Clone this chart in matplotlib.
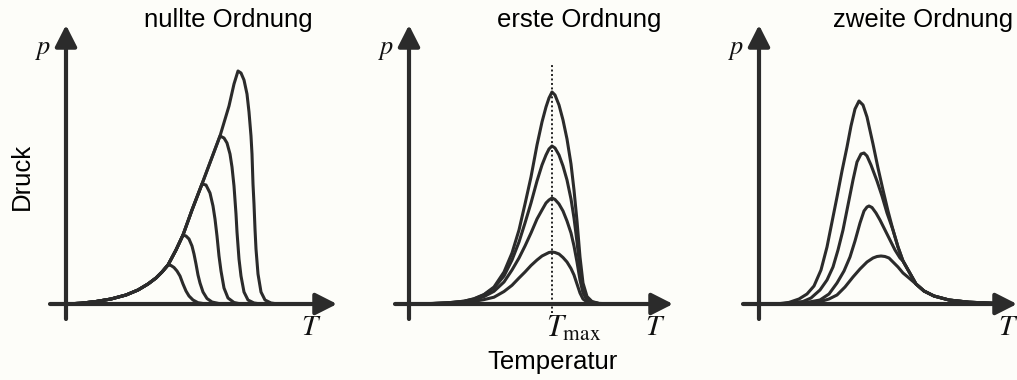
import matplotlib
matplotlib.use('Agg')
import matplotlib.pyplot as plt

plt.rcParams['mathtext.fontset'] = 'stix'
plt.rcParams['font.family'] = ['Liberation Sans', 'DejaVu Sans']

# ---- Daten ----
titles = ['nullte Ordnung', 'erste Ordnung', 'zweite Ordnung']

# nullte Ordnung: gemeinsame Anstiegsflanke + Abfall je Kurve
env_x = [0, 15, 30, 45, 60, 72, 82, 90, 96, 102, 110, 117, 126, 136, 145, 154, 163, 168, 172]
env_y = [0, 0.8, 2.5, 5, 9, 14, 20, 26, 32, 39, 54, 69, 94, 120, 144, 168, 198, 220, 233]
z_fall_x = [
    [102, 105, 108, 111, 114, 117, 120, 123, 127, 132, 140],
    [117, 120, 123, 126, 128, 130, 132, 134, 137, 141, 146, 155],
    [136, 140, 144, 147, 149, 151, 153, 155, 158, 162, 168, 175],
    [154, 158, 161, 164, 166, 168, 170, 171, 173, 175, 178, 182, 188, 195],
    [172, 175, 178, 181, 183, 185, 186, 187, 188, 189, 190, 192, 195, 199, 205, 212],
]
z_fall_y = [
    [39, 38.5, 36.5, 33, 28, 20, 13, 8, 4, 1.3, 0],
    [69, 68, 65, 58, 50, 40, 29, 21, 12, 5.5, 2, 0],
    [120, 119, 111, 98, 85, 68, 48, 33, 16, 6, 1.5, 0],
    [168, 166, 161, 150, 137, 118, 90, 72, 45, 28, 12, 4, 1, 0],
    [233, 231, 224, 210, 192, 168, 150, 120, 100, 75, 55, 30, 12, 4, 1, 0],
]

# erste Ordnung
f_x = [0, 20, 40, 55, 65, 75, 85, 95, 103, 110, 116, 122, 128, 133, 137, 140, 143,
       146, 150, 154, 158, 162, 165, 168, 171, 174, 178, 183, 190, 200, 215]
f_y1 = [0, 0.4, 1.3, 2.8, 5.3, 9.5, 17, 32, 51, 74, 100, 127, 159, 182, 197, 206, 212,
        209, 199, 184, 165, 140, 114, 83, 47, 21, 7.5, 2.5, 0.6, 0.2, 0]
f_y2 = [0, 0.3, 1.3, 2.8, 5, 9.2, 16, 28, 44, 62, 81, 101, 123, 139, 149, 155, 158,
        156, 149, 138, 124, 105, 86, 62, 35, 16, 5.5, 2, 0.5, 0.1, 0]
f_y3 = [0, 0.3, 1.1, 2.3, 4.2, 7.4, 12.7, 22, 34, 46, 58, 71, 85, 94, 101, 104, 106,
        104.5, 100, 93, 83, 71, 58, 42, 24, 11, 4, 1.4, 0.4, 0.1, 0]
f_y4 = [0, 0.2, 0.6, 1.5, 2.6, 4.4, 6.8, 12.5, 18.7, 26, 32, 38.5, 44, 48, 50, 51.5, 52,
        51.5, 50, 46.5, 42, 35.5, 29, 20, 11, 5, 2, 0.7, 0.2, 0.05, 0]
t_max = 143

# zweite Ordnung
s_x = [
    [10, 20, 30, 40, 48, 55, 62, 68, 73, 78, 83, 88, 92, 96, 100, 104, 108, 114, 119, 124, 129, 134, 139, 144],
    [15, 25, 35, 44, 52, 61, 68, 74, 79, 84, 89, 94, 98, 102, 105, 108, 112, 118, 123, 128, 134, 139, 144],
    [25, 35, 45, 53, 61, 70, 78, 85, 91, 96, 101, 105, 108, 110, 113, 117, 121, 126, 131, 136, 141, 144],
    [35, 45, 55, 61, 70, 78, 86, 94, 101, 108, 114, 118, 122, 126, 130, 134, 139, 144, 150],
]
s_y = [
    [0, 0.3, 1.6, 5, 10, 18, 34, 57, 82, 107, 133, 157, 178, 195, 203, 199, 187, 160, 136, 114, 93, 74, 57, 43],
    [0, 0.5, 1.5, 2.5, 6, 14, 24, 37, 54, 74, 99, 124, 142, 150, 151, 148, 139, 123, 108, 91, 74, 57, 43],
    [0, 0.5, 1.2, 2.5, 4, 10, 21, 33, 47, 63, 81, 93, 97, 98, 96.5, 91, 84, 74, 64, 54, 46, 43],
    [0, 0.5, 1.3, 2.3, 5, 9, 17, 27, 35, 42, 46, 47.5, 48, 47.5, 46, 42, 37, 31, 26],
]
tail_x = [157, 165, 175, 190, 210, 240]
tail_y = [20, 13, 8, 4, 1.8, 0.5]

# ---- Layout ----
W, H = 1017, 380
bg = '#fdfdf9'
ink = '#2b2b2b'
origins = [66, 409, 759]
x_ends = [(-16, 271), (-14, 264), (-16, 258)]
fs = 18.5

fig = plt.figure(figsize=(W / 100, H / 100), dpi=100, facecolor=bg)
axes = []
for ox, (x0, x1), title in zip(origins, x_ends, titles):
    ax = fig.add_axes([(ox - 26) / W, (H - 330) / H, 305 / W, 310 / H])
    ax.set_xlim(-26, 279)
    ax.set_ylim(-26, 284)
    ax.axis('off')
    arr = dict(arrowstyle='-|>,head_length=0.65,head_width=0.33', lw=3, color=ink,
               mutation_scale=20, shrinkA=0, shrinkB=0)
    ax.annotate('', xy=(x1, 0), xytext=(x0, 0), arrowprops=arr)
    ax.annotate('', xy=(0, 279), xytext=(0, -15), arrowprops=arr)
    ax.text(-23, 254, '$p$', fontsize=19, ha='center', va='center', color='#111111')
    axes.append(ax)

kw = dict(color=ink, lw=2.2, solid_capstyle='round', solid_joinstyle='round', clip_on=False)

# nullte Ordnung
ax = axes[0]
for fx, fy in zip(z_fall_x, z_fall_y):
    xs = [x for x in env_x if x < fx[0]] + fx
    ys = [y for x, y in zip(env_x, env_y) if x < fx[0]] + fy
    ax.plot(xs, ys, **kw)
ax.text(162, 284, titles[0], fontsize=fs, ha='center', va='center')
ax.text(245, -23, '$T$', fontsize=21, ha='center', va='center', color='#111111')

# erste Ordnung
ax = axes[1]
for fy in [f_y1, f_y2, f_y3, f_y4]:
    ax.plot(f_x, fy, **kw)
ax.plot([t_max, t_max], [-9, 241], color='#222222', lw=1.4, ls=(0, (1, 1.3)))
ax.text(170, 284, titles[1], fontsize=fs, ha='center', va='center')
ax.text(246, -23, '$T$', fontsize=21, ha='center', va='center', color='#111111')
ax.text(t_max + 22, -25, r'$T_{\mathrm{max}}$', fontsize=22, ha='center', va='center', color='#111111')

# zweite Ordnung
ax = axes[2]
for xs, ys in zip(s_x, s_y):
    ax.plot(xs + tail_x, ys + tail_y, **kw)
ax.text(164, 284, titles[2], fontsize=fs, ha='center', va='center')
ax.text(249, -23, '$T$', fontsize=21, ha='center', va='center', color='#111111')

fig.text(22 / W, 1 - 176 / H, 'Druck', rotation=90, fontsize=fs, ha='center', va='center')
fig.text(552 / W, 1 - 362 / H, 'Temperatur', fontsize=fs, ha='center', va='center')

fig.savefig('out.png', dpi=100, facecolor=bg)
